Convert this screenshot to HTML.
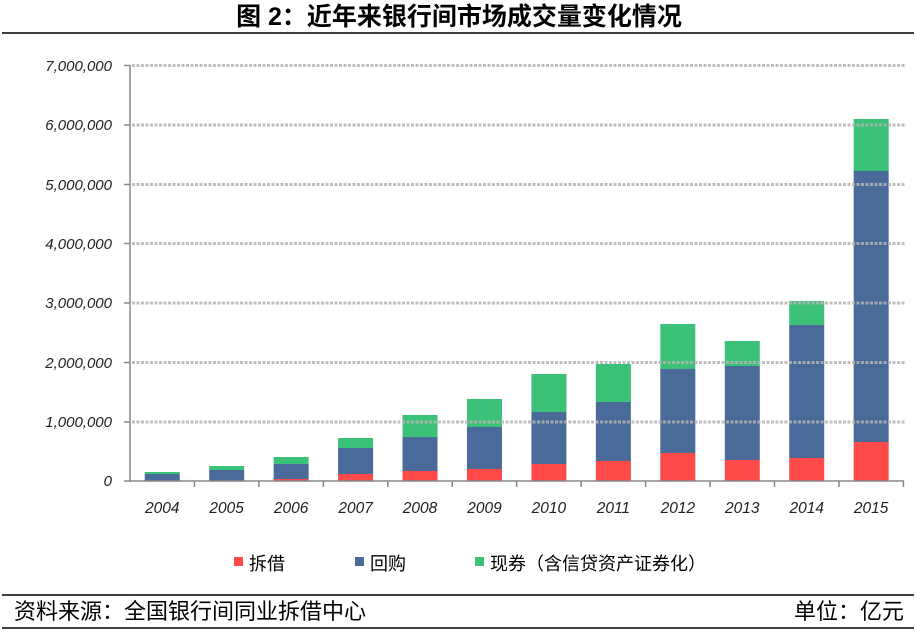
<!DOCTYPE html>
<html><head><meta charset="utf-8"><style>
body{margin:0;background:#fff;}
svg text{font-family:"Liberation Sans","Noto Sans CJK SC",sans-serif;}
</style></head><body>
<svg width="916" height="630" xmlns="http://www.w3.org/2000/svg">
<rect width="916" height="630" fill="#fff"/>
<text x="459" y="25" text-anchor="middle" font-size="25" font-weight="bold" fill="#000">图 2：近年来银行间市场成交量变化情况</text>
<line x1="2" y1="33" x2="914" y2="33" stroke="#000" stroke-width="1.5"/>
<g id="bars"></g>
<g stroke="#b4b4b4" stroke-width="3" stroke-dasharray="3,1.5" opacity="0.85">
<line x1="132" y1="65.5" x2="905" y2="65.5"/>
<line x1="132" y1="125" x2="905" y2="125"/>
<line x1="132" y1="184.5" x2="905" y2="184.5"/>
<line x1="132" y1="243.5" x2="905" y2="243.5"/>
<line x1="132" y1="303" x2="905" y2="303"/>
<line x1="132" y1="362.5" x2="905" y2="362.5"/>
<line x1="132" y1="422" x2="905" y2="422"/>
</g>
<g stroke="#888" stroke-width="1.5">
<line x1="130" y1="65" x2="130" y2="482"/>
<line x1="124" y1="65.5" x2="130" y2="65.5"/><line x1="124" y1="125" x2="130" y2="125"/><line x1="124" y1="184.5" x2="130" y2="184.5"/><line x1="124" y1="243.5" x2="130" y2="243.5"/><line x1="124" y1="303" x2="130" y2="303"/><line x1="124" y1="362.5" x2="130" y2="362.5"/><line x1="124" y1="422" x2="130" y2="422"/><line x1="124" y1="481" x2="130" y2="481"/>
<line x1="130" y1="481" x2="904" y2="481"/>
</g>
<g font-size="15" font-style="italic" fill="#222" text-anchor="end">
<text x="112" y="71">7,000,000</text><text x="112" y="130">6,000,000</text><text x="112" y="190">5,000,000</text><text x="112" y="249">4,000,000</text><text x="112" y="308">3,000,000</text><text x="112" y="368">2,000,000</text><text x="112" y="427">1,000,000</text><text x="112" y="486">0</text>
</g>
<g font-size="15.5" font-style="italic" fill="#222" text-anchor="middle" id="xl"></g>
<g id="ticks" stroke="#888" stroke-width="1.5"></g>
<rect x="234" y="557" width="9" height="9" fill="#ff4a4a"/>
<text x="249" y="570" font-size="18">拆借</text>
<rect x="355" y="557" width="9" height="9" fill="#4a6a99"/>
<text x="370" y="570" font-size="18">回购</text>
<rect x="475" y="557" width="9" height="9" fill="#3cc178"/>
<text x="490" y="570" font-size="18">现券（含信贷资产证券化）</text>
<line x1="2" y1="595" x2="914" y2="595" stroke="#000" stroke-width="1.5"/>
<text x="14" y="619" font-size="22" fill="#000">资料来源：全国银行间同业拆借中心</text>
<text x="904" y="619" font-size="22" fill="#000" text-anchor="end">单位：亿元</text>
<line x1="2" y1="628" x2="914" y2="628" stroke="#000" stroke-width="1.5"/>
<script>
var d=[[481,474,472],[481,470,466],[479,464,457],[474,448,438],[471,437,415],[469,427,399],[464,412,374],[461,402,364],[453,369,324],[460,366,341],[458,325,301],[442,171,119]];
var ns="http://www.w3.org/2000/svg",g=document.getElementById("bars"),xl=document.getElementById("xl"),tk=document.getElementById("ticks");
function r(x,y,w,h,c){var e=document.createElementNS(ns,"rect");e.setAttribute("x",x);e.setAttribute("y",y);e.setAttribute("width",w);e.setAttribute("height",h);e.setAttribute("fill",c);g.appendChild(e);}
for(var i=0;i<12;i++){var c=130+64.45*(i+0.5),x=c-17.5,v=d[i];
r(x,v[0],35,481-v[0],"#ff4a4a");r(x,v[1],35,v[0]-v[1],"#4a6a99");r(x,v[2],35,v[1]-v[2],"#3cc178");
var t=document.createElementNS(ns,"text");t.setAttribute("x",c);t.setAttribute("y",513);t.textContent=2004+i;xl.appendChild(t);
var l=document.createElementNS(ns,"line");var bx=130+64.45*(i+1);l.setAttribute("x1",bx);l.setAttribute("x2",bx);l.setAttribute("y1",481);l.setAttribute("y2",487);tk.appendChild(l);}
</script>
</svg>
</body></html>
